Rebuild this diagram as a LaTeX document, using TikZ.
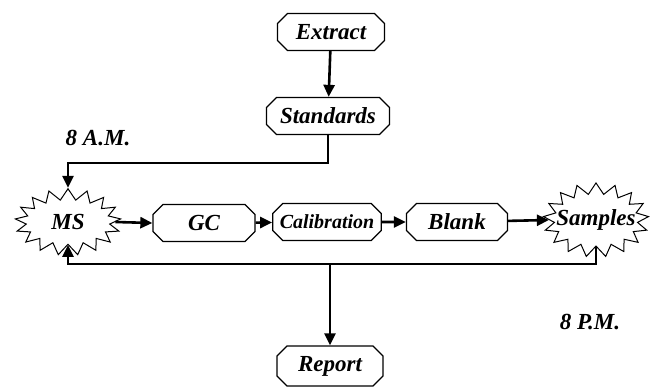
\documentclass[tikz,border=0pt]{standalone}
\usepackage{fontspec}
\setmainfont{Liberation Serif}
\usetikzlibrary{arrows.meta}
\usetikzlibrary{shapes.misc, shapes.symbols}

\tikzset{
  stage/.style={chamfered rectangle, chamfered rectangle xsep=7pt, draw, line width=1.3pt,
    minimum height=37pt, inner sep=0pt, font=\bfseries\itshape\fontsize{23}{23}\selectfont},
  burst/.style={starburst, starburst points=17, starburst point height=11pt, random starburst=0,
    draw, line width=1pt, inner xsep=13pt, inner ysep=8pt, font=\bfseries\itshape\fontsize{23}{23}\selectfont},
  flow/.style={line width=2.6pt, -{Triangle[length=12pt,width=11pt]}},
  clock/.style={font=\bfseries\itshape\fontsize{23}{23}\selectfont}
}

\begin{document}
\begin{tikzpicture}[x=1pt,y=-1pt]
\useasboundingbox (0,0) rectangle (659,389);

% sample prep
\node[stage,minimum width=107pt] (ext) at (331,32) {Extract};
\node[stage,minimum width=123pt] (std) at (328,116) {Standards};

% daily run
\node[burst] (ms) at (68,222) {MS};
\node[stage,minimum width=102pt] (gc) at (204,223) {GC};
\node[stage,minimum width=101pt,font=\bfseries\itshape\fontsize{20}{20}\selectfont] (cal) at (327,222) {Calibration};
\node[stage,minimum width=101pt] (blk) at (457,222) {Blank};
\node[burst] (smp) at (596,220) {\makebox[33pt]{Samples}};
\node[stage,minimum width=106pt,minimum height=40pt] (rep) at (330,366) {Report};

\node[clock] (am) at (98,138) {8 A.M.};
\node[clock] (pm) at (590,322) {8 P.M.};

\coordinate (top) at (0,163);
\coordinate (loop) at (0,264);

\draw[flow] (ext) -- (std);
\draw[flow] (std.south) -- (std.south |- top) -| (ms.north);
\draw[flow] (ms.east) -- (gc.west);
\draw[flow] (gc) -- (cal);
\draw[flow] (cal) -- (blk);
\draw[flow] (blk) -- (smp.west);
\draw[flow] (smp.south) -- (smp.south |- loop) -| (ms.south);
\draw[flow] (rep.north |- loop) -- (rep.north);

\end{tikzpicture}
\end{document}
